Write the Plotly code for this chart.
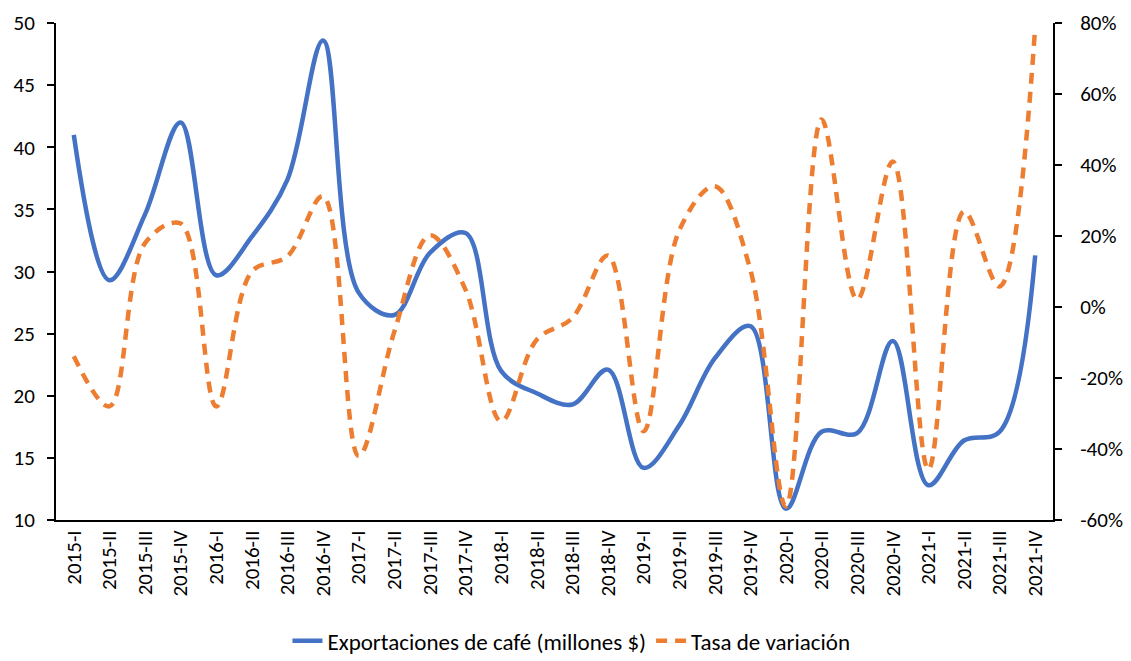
import plotly.graph_objects as go

quarters = [
    "2015-I", "2015-II", "2015-III", "2015-IV",
    "2016-I", "2016-II", "2016-III", "2016-IV",
    "2017-I", "2017-II", "2017-III", "2017-IV",
    "2018-I", "2018-II", "2018-III", "2018-IV",
    "2019-I", "2019-II", "2019-III", "2019-IV",
    "2020-I", "2020-II", "2020-III", "2020-IV",
    "2021-I", "2021-II", "2021-III", "2021-IV",
]

# Coffee exports, millions of dollars
exportaciones = [
    41.0, 29.3, 34.6, 42.0,
    29.7, 32.8, 37.4, 48.6,
    28.3, 26.5, 31.5, 33.1,
    22.0, 20.2, 19.3, 22.1,
    14.2, 17.6, 23.0, 25.6,
    10.9, 17.1, 17.0, 24.4,
    12.8, 16.4, 17.1, 31.3,
]

# Quarter-on-quarter rate of change, percent
tasa_variacion = [
    -13.9, -28.0, 18.0, 23.5,
    -28.0, 10.0, 14.3, 31.2,
    -42.0, -7.0, 20.2, 4.9,
    -32.2, -9.2, -3.1, 14.5,
    -35.0, 21.5, 34.0, 10.5,
    -56.2, 52.8, 2.1, 41.0,
    -45.8, 26.9, 5.8, 78.9,
]

left_ticks = [10, 15, 20, 25, 30, 35, 40, 45, 50]
right_ticks = [-60, -40, -20, 0, 20, 40, 60, 80]
right_labels = [f"{v}%" for v in right_ticks]

FONT = "Calibri, Carlito, Lato, sans-serif"
BLUE = "#4472C4"
ORANGE = "#ED7D31"

fig = go.Figure()
fig.add_trace(go.Scatter(
    x=quarters, y=exportaciones,
    name="Exportaciones de café (millones $)",
    mode="lines",
    line=dict(color=BLUE, width=4.5, shape="spline", smoothing=1.0),
    yaxis="y",
))
fig.add_trace(go.Scatter(
    x=quarters, y=tasa_variacion,
    name="Tasa de variación",
    mode="lines",
    line=dict(color=ORANGE, width=4.5, shape="spline", smoothing=1.0,
              dash="11px,8px"),
    yaxis="y2",
))

fig.update_layout(
    width=1131, height=661,
    margin=dict(l=56, r=78, t=23, b=141, autoexpand=False),
    paper_bgcolor="white",
    plot_bgcolor="white",
    font=dict(family=FONT, size=20, color="#000000"),
    showlegend=True,
    legend=dict(
        orientation="h",
        x=0.517, xanchor="center",
        y=-0.200, yanchor="top",
        font=dict(size=23),
        bgcolor="rgba(0,0,0,0)",
        tracegroupgap=0,
    ),
    xaxis=dict(
        type="category",
        range=[-0.5, 27.5],
        tickangle=-90,
        showgrid=False,
        showline=True, linecolor="#000000", linewidth=2,
        ticks="",
        tickfont=dict(size=21),
        zeroline=False,
    ),
    yaxis=dict(
        range=[10, 50],
        tickvals=left_ticks,
        showgrid=False,
        showline=True, linecolor="#000000", linewidth=2,
        ticks="outside", ticklen=7, tickwidth=2, tickcolor="#000000",
        tickfont=dict(size=21),
        ticklabelstandoff=8,
        zeroline=False,
    ),
    yaxis2=dict(
        range=[-60, 80],
        tickvals=right_ticks,
        ticktext=right_labels,
        overlaying="y",
        side="right",
        showgrid=False,
        showline=True, linecolor="#000000", linewidth=2,
        ticks="outside", ticklen=7, tickwidth=2, tickcolor="#000000",
        tickfont=dict(size=21),
        ticklabelstandoff=14,
        zeroline=False,
    ),
)

fig.write_html("out.html")
